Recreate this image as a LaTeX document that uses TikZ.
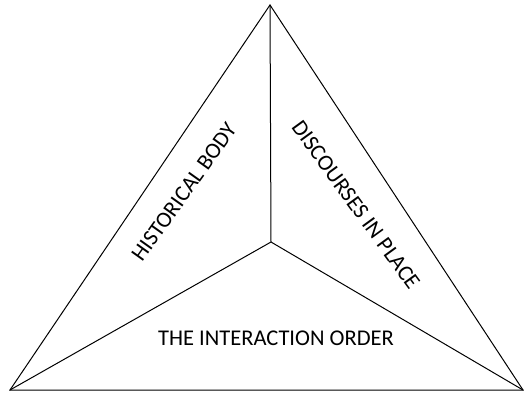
\documentclass[tikz,border=0pt]{standalone}
\usepackage{fontspec}
\setmainfont{Carlito}
\begin{document}
\begin{tikzpicture}[x=1pt,y=-1pt,
  edge/.style={line width=1pt,black,line join=miter},
  lab/.style={font=\fontsize{22.5}{22.5}\selectfont,inner sep=0pt}]
\useasboundingbox (0,0) rectangle (525,393);
\coordinate (apex) at (270,5);
\coordinate (bl) at (10,390);
\coordinate (br) at (523,390);
\coordinate (c) at (271,242);
\draw[edge] (apex) -- (bl) -- (br) -- cycle;
\draw[edge] (c) -- (apex);
\draw[edge] (c) -- (bl);
\draw[edge] (c) -- (br);
\node[lab,rotate=54.5] (hb) at (184,192) {HISTORICAL BODY};
\node[lab,rotate=-54] (dp) at (356,205) {DISCOURSES IN PLACE};
\node[lab] (io) at (276,338) {THE INTERACTION ORDER};
\end{tikzpicture}
\end{document}
